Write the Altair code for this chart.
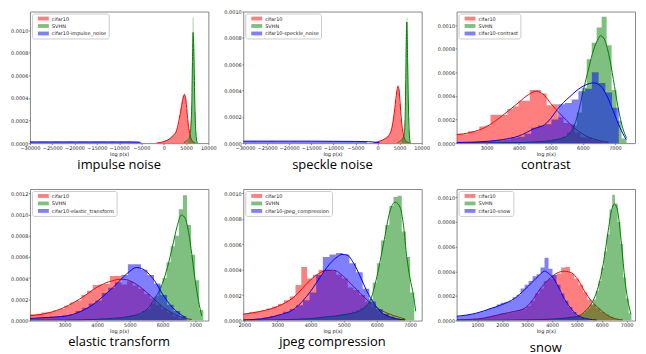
import altair as alt
import pandas as pd

# ---------------- panel meta ----------------
CORRUPTIONS = ["impulse_noise", "speckle_noise", "contrast", "elastic_transform", "jpeg_compression", "snow"]
TITLES = ["impulse noise", "speckle noise", "contrast", "elastic transform", "jpeg compression", "snow"]
COLORS = ["red", "green", "blue"]
X_DOMAINS = [[-30000, 10000], [-30400, 10000], [2062, 7625], [1940, 7405], [1970, 7350], [168, 7335]]
Y_TOPS = [0.001165, 0.00100, 0.001115, 0.00124, 0.001034, 0.001067]
X_TICKS = [
    [-30000, -25000, -20000, -15000, -10000, -5000, 0, 5000, 10000],
    [-30000, -25000, -20000, -15000, -10000, -5000, 0, 5000, 10000],
    [3000, 4000, 5000, 6000, 7000],
    [3000, 4000, 5000, 6000, 7000],
    [2000, 3000, 4000, 5000, 6000, 7000],
    [1000, 2000, 3000, 4000, 5000, 6000, 7000],
]
Y_TICKS_10 = [0, 0.0002, 0.0004, 0.0006, 0.0008, 0.0010]
Y_TICKS_12 = [0, 0.0002, 0.0004, 0.0006, 0.0008, 0.0010, 0.0012]
TITLE_OFFSETS = [3, 3, 3, 3, 3, 9]

# ---------------- histograms: (first edge, bin width, heights in 1e-4) + KDE curves ----------------
# impulse noise
IMP_RED = (-1500, 250, [0.03, 0.04, 0.05, 0.06, 0.08, 0.1, 0.15, 0.2, 0.25, 0.3, 0.35, 0.4, 0.5, 0.6, 0.7, 0.8, 0.95,
                        1.1, 1.4, 1.9, 2.5, 3.1, 3.7, 4.2, 4.4, 4.0, 3.0, 2.0, 1.3, 0.8, 0.45, 0.25, 0.12, 0.05])
IMP_RED_KX = [-1600, -500, 300, 1400, 2160, 2900, 3500, 4030, 4400, 4630, 4925, 5220, 5520, 5900, 6270, 6800, 7100]
IMP_RED_KY = [0.0, 0.08, 0.18, 0.4, 0.7, 1.15, 2.2, 3.35, 4.1, 4.3, 3.95, 2.76, 1.6, 0.7, 0.26, 0.06, 0.0]
IMP_GRN = (5300, 150, [0.15, 0.25, 0.4, 0.7, 1.2, 2.0, 3.3, 7.0, 11.1, 9.5, 5.5, 2.8, 1.0, 0.4, 0.1])
IMP_GRN_KX = [4500, 5000, 5400, 5750, 6040, 6270, 6420, 6570, 6700, 6800, 7010, 7240, 7460, 7600]
IMP_GRN_KY = [0.05, 0.15, 0.3, 0.5, 1.3, 3.2, 7.0, 9.8, 8.8, 7.2, 2.8, 0.7, 0.1, 0.0]
IMP_BLU = (-30000, 1000, [0.14, 0.13, 0.15, 0.14, 0.13, 0.14, 0.15, 0.13, 0.14, 0.14, 0.13, 0.15, 0.14, 0.13, 0.14,
                          0.14, 0.15, 0.13, 0.14, 0.13, 0.14, 0.15, 0.14, 0.13, 0.12])
IMP_BLU_KX = [-30000, -25000, -20000, -15000, -10000, -7000, -5600, -5300]
IMP_BLU_KY = [0.1, 0.1, 0.1, 0.1, 0.1, 0.1, 0.08, 0.02]

# speckle noise
SPK_RED = (-1000, 250, [0.02, 0.04, 0.06, 0.08, 0.1, 0.13, 0.16, 0.2, 0.24, 0.28, 0.33, 0.4, 0.48, 0.55, 0.62, 0.8,
                        1.0, 1.35, 2.0, 2.6, 3.3, 3.95, 4.4, 4.1, 3.0, 1.8, 1.1, 0.6, 0.35, 0.18, 0.1, 0.04])
SPK_RED_KX = [-900, -750, 0, 1500, 2600, 3375, 3900, 4350, 4650, 4950, 5250, 5625, 6000, 6500, 7000, 7300]
SPK_RED_KY = [0.0, 0.02, 0.1, 0.3, 0.6, 1.37, 2.6, 3.9, 4.3, 3.8, 2.4, 1.1, 0.48, 0.15, 0.03, 0.0]
SPK_GRN = (5400, 150, [0.15, 0.25, 0.4, 0.6, 1.0, 1.7, 4.5, 8.5, 9.5, 6.3, 3.0, 1.0, 0.35, 0.1])
SPK_GRN_KX = [4500, 5000, 5625, 6000, 6225, 6375, 6525, 6640, 6825, 7050, 7275, 7450]
SPK_GRN_KY = [0.05, 0.12, 0.3, 0.6, 1.6, 4.4, 8.2, 9.2, 6.2, 2.1, 0.35, 0.0]
SPK_BLU = (-30400, 1000, [0.15, 0.14, 0.16, 0.15, 0.15, 0.14, 0.16, 0.15, 0.15, 0.14, 0.15, 0.16, 0.15, 0.14, 0.15,
                          0.15, 0.14, 0.15, 0.15, 0.14, 0.14, 0.15, 0.13, 0.14, 0.13, 0.13, 0.12, 0.12])
SPK_BLU_KX = [-30400, -25000, -20000, -15000, -10000, -5000, -2000, -500, 500]
SPK_BLU_KY = [0.15, 0.15, 0.15, 0.15, 0.14, 0.13, 0.11, 0.07, 0.02]

# contrast
CON_RED = (2070, 175, [0.8, 0.75, 1.0, 1.0, 1.4, 1.5, 2.4, 2.4, 2.4, 2.9, 3.1, 3.6, 3.6, 4.5, 4.5, 4.2, 3.2, 3.3,
                       2.2, 1.7, 1.6, 0.9, 0.5, 0.5, 0.25, 0.15, 0.05])
CON_RED_KX = [2062, 2500, 3000, 3500, 4000, 4300, 4550, 4800, 5000, 5250, 5500, 5750, 6000, 6250, 6500, 6800]
CON_RED_KY = [0.72, 0.9, 1.4, 2.35, 3.45, 4.1, 4.4, 4.05, 3.35, 2.6, 1.9, 1.25, 0.75, 0.42, 0.22, 0.08]
CON_GRN = (3330, 155, [0.03, 0.05, 0.05, 0.06, 0.08, 0.1, 0.1, 0.12, 0.15, 0.15, 0.2, 0.3, 0.35, 0.55, 0.9, 1.5,
                       2.6, 4.7, 7.1, 8.5, 9.8, 10.7, 8.3, 4.5, 1.9, 0.4])
CON_GRN_KX = [2062, 3000, 4000, 4500, 5000, 5250, 5500, 5700, 5850, 6000, 6150, 6300, 6450, 6550, 6650, 6800,
              6950, 7100, 7250, 7360]
CON_GRN_KY = [0.02, 0.03, 0.05, 0.1, 0.2, 0.35, 0.6, 1.3, 2.5, 4.3, 6.0, 7.6, 8.7, 9.1, 8.9, 7.6, 5.4, 3.0, 1.2, 0.45]
CON_BLU = (2080, 210, [0.05, 0.06, 0.1, 0.12, 0.15, 0.2, 0.25, 0.3, 0.45, 0.55, 0.8, 1.3, 1.5, 1.6, 2.0, 3.3, 3.4,
                       3.7, 4.4, 4.6, 6.0, 5.1, 4.3, 3.0])
CON_BLU_KX = [2062, 2500, 3000, 3500, 4000, 4500, 4800, 5000, 5200, 5400, 5600, 5850, 6100, 6330, 6550, 6750,
              6950, 7150, 7350]
CON_BLU_KY = [0.05, 0.08, 0.15, 0.3, 0.6, 1.25, 1.55, 2.1, 2.85, 3.45, 3.95, 4.55, 4.95, 5.1, 4.85, 4.0, 2.7, 1.35, 0.3]

# elastic transform
ELA_RED = (1940, 175, [0.6, 0.65, 0.75, 0.8, 0.95, 1.1, 1.4, 1.7, 1.9, 2.4, 2.8, 3.35, 3.4, 3.45, 4.2, 4.2, 3.4,
                       3.7, 3.3, 3.0, 2.5, 2.1, 1.5, 1.1, 0.75, 0.4, 0.2, 0.1])
ELA_RED_KX = [1940, 2500, 3000, 3500, 4000, 4300, 4500, 4700, 4900, 5100, 5300, 5500, 5750, 6000, 6300, 6700, 6900]
ELA_RED_KY = [0.45, 0.72, 1.25, 2.1, 3.15, 3.6, 3.78, 3.9, 3.85, 3.6, 3.2, 2.7, 2.0, 1.3, 0.7, 0.22, 0.1]
ELA_GRN = (3000, 125, [0.05, 0.05, 0.05, 0.08, 0.08, 0.1, 0.1, 0.1, 0.12, 0.15, 0.15, 0.18,
                       0.2, 0.25, 0.3, 0.4, 0.5, 0.55, 0.6, 0.9, 1.1, 1.6, 2.3, 3.3, 4.0, 5.5, 7.0, 8.0, 10.5,
                       11.8, 9.0, 6.2, 3.8, 1.0])
ELA_GRN_KX = [1940, 3000, 4000, 4500, 5000, 5300, 5500, 5750, 6000, 6150, 6300, 6450, 6580, 6700, 6800, 6900,
              7000, 7100, 7200]
ELA_GRN_KY = [0.03, 0.05, 0.12, 0.22, 0.4, 0.65, 1.0, 2.0, 3.5, 5.0, 6.9, 8.9, 9.95, 9.6, 8.3, 6.2, 3.8, 1.9, 0.45]
ELA_BLU = (1940, 200, [0.2, 0.25, 0.3, 0.35, 0.4, 0.5, 0.6, 0.9, 1.2, 1.6, 1.9, 2.6, 3.1, 3.6, 4.3, 5.3, 5.3,
                       4.8, 4.3, 3.5, 2.4, 1.5, 0.9, 0.4])
ELA_BLU_KX = [1940, 2500, 3000, 3500, 3800, 4000, 4300, 4500, 4800, 5000, 5200, 5400, 5600, 5800, 6000, 6300, 6700]
ELA_BLU_KY = [0.2, 0.3, 0.4, 0.87, 1.35, 1.8, 2.6, 3.15, 4.1, 4.65, 5.0, 4.85, 4.35, 3.55, 2.5, 1.25, 0.3]

# jpeg compression
JPG_RED = (1970, 175, [0.55, 0.65, 0.7, 0.8, 0.95, 1.1, 1.3, 1.6, 1.9, 2.8, 4.2, 3.3, 3.6, 4.0, 4.0, 3.9, 3.6,
                       3.3, 2.6, 2.4, 2.0, 1.5, 1.1, 0.8, 0.55, 0.35, 0.2, 0.1])
JPG_RED_KX = [1970, 2500, 3000, 3500, 4000, 4250, 4500, 4700, 5000, 5250, 5500, 5750, 6000, 6500, 6850]
JPG_RED_KY = [0.5, 0.73, 1.1, 1.85, 3.2, 3.7, 3.95, 3.95, 3.45, 2.8, 2.15, 1.5, 1.0, 0.4, 0.12]
JPG_GRN = (3000, 125, [0.05, 0.05, 0.06, 0.08, 0.1, 0.1, 0.12, 0.15, 0.2, 0.2, 0.25, 0.3,
                       0.3, 0.35, 0.4, 0.5, 0.5, 0.6, 0.7, 0.8, 1.0, 1.2, 1.7, 3.0, 4.5, 6.3, 7.5, 9.0, 9.7, 9.8,
                       7.0, 5.0, 2.2])
JPG_GRN_KX = [1970, 3000, 4000, 4500, 5000, 5500, 5800, 6000, 6200, 6400, 6550, 6700, 6800, 6900, 7000, 7100, 7170]
JPG_GRN_KY = [0.03, 0.06, 0.15, 0.3, 0.45, 0.8, 1.6, 3.45, 6.05, 8.65, 9.3, 8.9, 7.5, 5.0, 3.3, 2.0, 0.73]
JPG_BLU = (1970, 200, [0.05, 0.1, 0.15, 0.25, 0.35, 0.45, 0.7, 0.9, 1.2, 1.6, 2.2, 3.6, 5.0, 5.2, 5.3, 5.2, 4.5,
                       3.8, 2.5, 1.5, 0.9, 0.5, 0.25, 0.1])
JPG_BLU_KX = [1970, 2500, 3000, 3500, 4000, 4300, 4500, 4800, 4950, 5100, 5300, 5500, 5700, 5900, 6100, 6500, 6850]
JPG_BLU_KY = [0.05, 0.13, 0.4, 0.9, 2.3, 3.45, 4.2, 5.0, 5.2, 5.15, 4.5, 3.45, 2.3, 1.4, 0.73, 0.2, 0.05]

# snow
SNO_RED = (170, 175, [0.05, 0.07, 0.1, 0.1, 0.12, 0.15, 0.2, 0.3, 0.4, 0.45, 0.55, 0.6, 0.65, 0.75, 0.85, 0.95,
                      1.2, 1.6, 2.2, 2.6, 3.2, 3.4, 3.7, 3.8, 4.3, 4.35, 3.8, 3.4, 2.9, 2.3, 1.7, 1.3, 1.0, 0.7,
                      0.5, 0.3, 0.15, 0.08])
SNO_RED_KX = [170, 1000, 1500, 2000, 2500, 2900, 3200, 3500, 3850, 4200, 4500, 4800, 5050, 5300, 5600, 5930,
              6250, 6650, 6850]
SNO_RED_KY = [0.06, 0.13, 0.3, 0.54, 0.75, 1.0, 1.6, 2.5, 3.3, 3.85, 4.0, 3.85, 3.3, 2.4, 1.55, 0.9, 0.4, 0.1, 0.05]
SNO_GRN = (2790, 110, [0.03, 0.03, 0.04, 0.04, 0.05, 0.05, 0.06, 0.07, 0.08, 0.09, 0.1,
                       0.12, 0.15, 0.15, 0.2, 0.2, 0.25, 0.3, 0.3, 0.35, 0.4, 0.5, 0.6, 0.8, 1.0, 1.3, 1.7, 2.4,
                       3.2, 4.3, 5.6, 7.0, 9.0, 10.2, 9.5, 8.0, 6.2, 3.5, 1.8, 0.6])
SNO_GRN_KX = [170, 2000, 3000, 4000, 4500, 5050, 5320, 5590, 5860, 6060, 6260, 6400, 6500, 6600, 6700, 6800,
              6930, 7070, 7170]
SNO_GRN_KY = [0.02, 0.03, 0.06, 0.12, 0.2, 0.35, 0.75, 1.4, 2.76, 4.6, 7.3, 9.0, 9.45, 9.2, 8.0, 6.0, 3.3, 1.4, 0.55]
SNO_BLU = (180, 160, [0.35, 0.4, 0.45, 0.5, 0.55, 0.65, 0.75, 0.85, 1.0, 1.1, 1.3, 1.45, 1.5, 1.6, 1.9, 2.1, 2.6,
                      2.9, 3.2, 3.6, 3.75, 4.3, 5.1, 4.2, 3.7, 2.9, 2.2, 1.6, 1.1, 0.7, 0.4, 0.2, 0.1])
SNO_BLU_KX = [170, 1000, 1500, 2000, 2500, 2900, 3200, 3500, 3700, 3850, 4050, 4250, 4500, 4800, 5050, 5450, 5800]
SNO_BLU_KY = [0.35, 0.62, 0.95, 1.3, 1.8, 2.5, 3.1, 3.7, 4.0, 3.85, 3.45, 2.76, 1.75, 0.9, 0.4, 0.13, 0.04]

PANELS = [
    ([IMP_RED, IMP_GRN, IMP_BLU], [(IMP_RED_KX, IMP_RED_KY), (IMP_GRN_KX, IMP_GRN_KY), (IMP_BLU_KX, IMP_BLU_KY)]),
    ([SPK_RED, SPK_GRN, SPK_BLU], [(SPK_RED_KX, SPK_RED_KY), (SPK_GRN_KX, SPK_GRN_KY), (SPK_BLU_KX, SPK_BLU_KY)]),
    ([CON_RED, CON_GRN, CON_BLU], [(CON_RED_KX, CON_RED_KY), (CON_GRN_KX, CON_GRN_KY), (CON_BLU_KX, CON_BLU_KY)]),
    ([ELA_RED, ELA_GRN, ELA_BLU], [(ELA_RED_KX, ELA_RED_KY), (ELA_GRN_KX, ELA_GRN_KY), (ELA_BLU_KX, ELA_BLU_KY)]),
    ([JPG_RED, JPG_GRN, JPG_BLU], [(JPG_RED_KX, JPG_RED_KY), (JPG_GRN_KX, JPG_GRN_KY), (JPG_BLU_KX, JPG_BLU_KY)]),
    ([SNO_RED, SNO_GRN, SNO_BLU], [(SNO_RED_KX, SNO_RED_KY), (SNO_GRN_KX, SNO_GRN_KY), (SNO_BLU_KX, SNO_BLU_KY)]),
]

# wide, flat legend patch (matplotlib-style handle)
RECT = "M-2,-0.7L2,-0.7L2,0.7L-2,0.7Z"


def hist_frame(spec, label):
    start, width, heights = spec
    xs = [start + i * width for i in range(len(heights) + 1)]
    ys = [h * 1e-4 for h in heights] + [heights[-1] * 1e-4]
    return pd.DataFrame({"x": xs, "y": ys, "s": label})


def kde_frame(spec, label):
    xs, ys = spec
    return pd.DataFrame({"x": xs, "y": [v * 1e-4 for v in ys], "s": label})


def panel(i):
    hists, kdes = PANELS[i]
    labels = ["cifar10", "SVHN", "cifar10-" + CORRUPTIONS[i]]
    cscale = alt.Scale(domain=labels, range=COLORS)
    xs = alt.Scale(domain=X_DOMAINS[i], nice=False, zero=False)
    ys = alt.Scale(domain=[0, Y_TOPS[i]], nice=False)
    xax = alt.Axis(values=X_TICKS[i], format="d", title="log p(x)", labelFlush=False, labelOverlap=False)
    yax = alt.Axis(values=Y_TICKS_12 if Y_TOPS[i] > 0.0012 else Y_TICKS_10, format=".4f", title=None,
                   labelOverlap=False)
    leg = alt.Legend(title=None, orient="top-left", offset=2, symbolType=RECT, symbolSize=30,
                     symbolOpacity=0.5, symbolStrokeWidth=0, labelFontSize=5, labelFont="DejaVu Sans",
                     labelColor="#222", rowPadding=1.5, padding=2, symbolOffset=6.5, labelOffset=5.5,
                     fillColor="white", strokeColor="#cccccc", cornerRadius=2)
    layers = []
    for k in range(3):
        layers.append(
            alt.Chart(hist_frame(hists[k], labels[k]))
            .mark_area(interpolate="step-after", opacity=0.5, clip=True)
            .encode(x=alt.X("x:Q", scale=xs, axis=xax),
                    y=alt.Y("y:Q", scale=ys, axis=yax, stack=None),
                    color=alt.Color("s:N", scale=cscale, legend=leg))
        )
        layers.append(
            alt.Chart(kde_frame(kdes[k], labels[k]))
            .mark_line(interpolate="monotone", strokeWidth=1, clip=True)
            .encode(x=alt.X("x:Q", scale=xs, axis=xax),
                    y=alt.Y("y:Q", scale=ys, axis=yax),
                    color=alt.Color("s:N", scale=cscale, legend=None))
        )
    return alt.layer(*layers).properties(
        width=179, height=132,
        title=alt.TitleParams(TITLES[i], orient="bottom", offset=TITLE_OFFSETS[i]),
    )


chart = (
    alt.concat(*[panel(i) for i in range(6)], columns=3, spacing={"row": 46, "column": 35}, bounds="flush")
    .resolve_scale(x="independent", y="independent", color="independent")
    .resolve_legend(color="independent")
    .configure_view(stroke="#888888", strokeWidth=1)
    .configure_axis(labelFont="DejaVu Sans", labelFontSize=5, labelColor="#222222", tickSize=1.5,
                    tickColor="#444444", tickWidth=0.6, domain=False, grid=False, labelPadding=0.5,
                    titleFont="DejaVu Sans", titleFontSize=5, titleFontWeight="normal", titleColor="#222222",
                    titlePadding=1)
    .configure_title(font="Open Sans", fontSize=13, fontWeight="normal", color="black")
    .properties(padding={"left": 2, "top": 0, "right": 2, "bottom": 0})
)

chart.save("out.html", embed_options={"renderer": "svg", "actions": False})
